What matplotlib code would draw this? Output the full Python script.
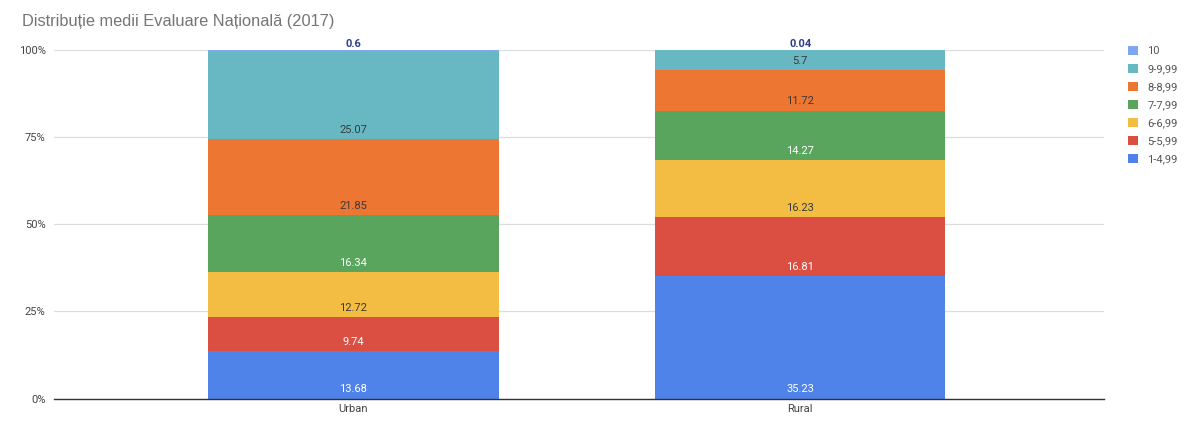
import numpy as np
import matplotlib
matplotlib.use("Agg")
import matplotlib.pyplot as plt
from matplotlib.patches import Patch

plt.rcParams["font.family"] = ["Roboto", "DejaVu Sans"]

categories = ["Urban", "Rural"]
series_names = ["1-4,99", "5-5,99", "6-6,99", "7-7,99", "8-8,99", "9-9,99", "10"]
urban = [13.68, 9.74, 12.72, 16.34, 21.85, 25.07, 0.6]
rural = [35.23, 16.81, 16.23, 14.27, 11.72, 5.7, 0.04]
colors = ["#5083e9", "#db4f43", "#f3bd43", "#59a55e", "#ed7632", "#68b8c4", "#7ea6f1"]
label_colors = ["white", "white", "#3a3a3a", "white", "#3a3a3a", "#3a3a3a", "#2b3f8f"]

data = np.array([urban, rural])  # rows: categories, cols: series
x = np.arange(len(categories))
width = 0.65

fig = plt.figure(figsize=(12, 4.24), dpi=100)
ax = fig.add_axes([0.045, 0.06, 0.875, 0.823])

bottom = np.zeros(len(categories))
for i, name in enumerate(series_names):
    vals = data[:, i]
    ax.bar(x, vals, width, bottom=bottom, color=colors[i], zorder=2, linewidth=0)
    for j, v in enumerate(vals):
        if i == len(series_names) - 1:
            # topmost thin slice: label sits above the bar
            ax.text(x[j], bottom[j] + v + 0.3, f"{v:g}", ha="center", va="bottom",
                    fontsize=8, color=label_colors[i], fontweight="bold", zorder=3)
        else:
            off = min(v / 2, 2.6)
            ax.text(x[j], bottom[j] + off, f"{v:g}", ha="center", va="center",
                    fontsize=8, color=label_colors[i], zorder=3)
    bottom += vals

ax.set_xlim(-0.67, 1.68)
ax.set_ylim(0, 100)
ax.set_yticks([0, 25, 50, 75, 100])
ax.set_yticklabels(["0%", "25%", "50%", "75%", "100%"])
ax.set_xticks(x)
ax.set_xticklabels(categories)
ax.tick_params(axis="both", length=0, labelsize=8, colors="#444444")
ax.tick_params(axis="y", pad=6)
ax.tick_params(axis="x", pad=4)
ax.grid(axis="y", color="#dddddd", linewidth=0.9, zorder=0)
for s in ["top", "right", "left"]:
    ax.spines[s].set_visible(False)
ax.spines["bottom"].set_color("#333333")
ax.spines["bottom"].set_linewidth(1.0)
ax.spines["bottom"].set_zorder(3)

fig.text(0.018, 0.95, "Distribuție medii Evaluare Națională (2017)", fontsize=11.8,
         color="#757575", ha="left", va="center", family=["Liberation Sans", "DejaVu Sans"])

handles = [Patch(facecolor=colors[i], edgecolor="none") for i in range(len(series_names))][::-1]
leg = fig.legend(handles, series_names[::-1], loc="upper left", bbox_to_anchor=(0.932, 0.915),
                 frameon=False, fontsize=8, handlelength=0.9, handleheight=0.9,
                 labelspacing=0.68, handletextpad=0.8)
for t in leg.get_texts():
    t.set_color("#555555")

plt.savefig("out.png", dpi=100)
